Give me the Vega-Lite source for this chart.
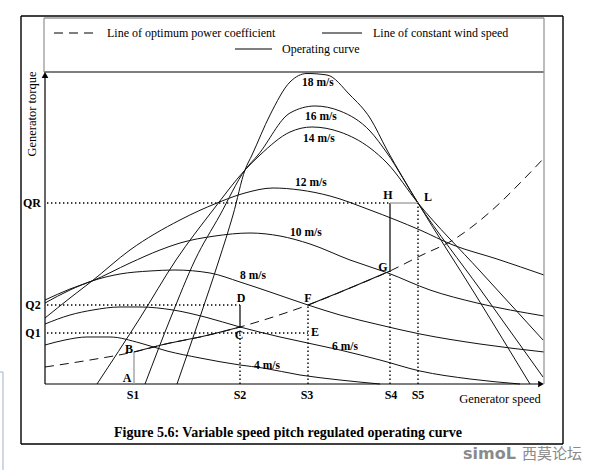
{
  "$schema": "https://vega.github.io/schema/vega-lite/v6.json",
  "width": 608,
  "height": 470,
  "autosize": {"type": "none"},
  "padding": 0,
  "background": "white",
  "config": {"view": {"stroke": null}},
  "datasets": {
    "wind": [
      {"v":"4","s":0,"t":13},{"v":"4","s":4,"t":14.67},{"v":"4","s":8.4,"t":15.67},{"v":"4","s":13,"t":15.67},{"v":"4","s":19,"t":13.67},{"v":"4","s":24.4,"t":11},{"v":"4","s":31,"t":8.67},{"v":"4","s":39,"t":6.33},{"v":"4","s":43.6,"t":5.33},{"v":"4","s":51,"t":3},{"v":"4","s":59,"t":1.33},{"v":"4","s":67,"t":0},
      {"v":"6","s":0,"t":20},{"v":"6","s":5,"t":23},{"v":"6","s":9.6,"t":24.67},{"v":"6","s":15,"t":25.67},{"v":"6","s":19,"t":25.67},{"v":"6","s":25.6,"t":24.67},{"v":"6","s":32,"t":22.33},{"v":"6","s":39,"t":19},{"v":"6","s":47,"t":15.67},{"v":"6","s":59,"t":11.33},{"v":"6","s":67,"t":8},{"v":"6","s":75,"t":4.33},{"v":"6","s":85,"t":1.67},{"v":"6","s":95,"t":0},
      {"v":"8","s":0,"t":27},{"v":"8","s":5,"t":31.33},{"v":"8","s":9.4,"t":34.33},{"v":"8","s":15,"t":36.67},{"v":"8","s":21,"t":37.67},{"v":"8","s":26,"t":38},{"v":"8","s":33,"t":37},{"v":"8","s":39,"t":34},{"v":"8","s":45,"t":30.67},{"v":"8","s":52.6,"t":26.33},{"v":"8","s":59,"t":23},{"v":"8","s":67,"t":19.67},{"v":"8","s":75,"t":16.67},{"v":"8","s":87,"t":13.33},{"v":"8","s":99.8,"t":10.67},
      {"v":"10","s":0,"t":28},{"v":"10","s":5,"t":31.67},{"v":"10","s":9.4,"t":34.33},{"v":"10","s":17,"t":40.33},{"v":"10","s":23,"t":44.67},{"v":"10","s":27,"t":47},{"v":"10","s":34,"t":49.33},{"v":"10","s":41,"t":50.33},{"v":"10","s":47,"t":49.33},{"v":"10","s":53,"t":46.67},{"v":"10","s":61,"t":41.33},{"v":"10","s":68.6,"t":37},{"v":"10","s":77,"t":31.33},{"v":"10","s":86.4,"t":27},{"v":"10","s":99.8,"t":22.67},
      {"v":"12","s":0,"t":22},{"v":"12","s":5,"t":28.67},{"v":"12","s":9.4,"t":34.33},{"v":"12","s":17,"t":44.67},{"v":"12","s":27,"t":54.67},{"v":"12","s":34.4,"t":60.33},{"v":"12","s":40,"t":63.67},{"v":"12","s":45.6,"t":65.33},{"v":"12","s":51,"t":64.67},{"v":"12","s":57,"t":62.67},{"v":"12","s":65,"t":58},{"v":"12","s":75,"t":51.33},{"v":"12","s":81.6,"t":46.33},{"v":"12","s":90.4,"t":41.67},{"v":"12","s":99.8,"t":36.33},
      {"v":"14","s":10.4,"t":0},{"v":"14","s":19,"t":22},{"v":"14","s":26.2,"t":41.33},{"v":"14","s":33.6,"t":58},{"v":"14","s":40,"t":71.33},{"v":"14","s":43,"t":76.33},{"v":"14","s":49,"t":84},{"v":"14","s":53.4,"t":85.67},{"v":"14","s":59,"t":84},{"v":"14","s":65,"t":78.67},{"v":"14","s":68.4,"t":73.67},{"v":"14","s":74.6,"t":60.33},{"v":"14","s":87,"t":37.67},{"v":"14","s":99.6,"t":14.67},
      {"v":"16","s":20,"t":0},{"v":"16","s":25.2,"t":22.33},{"v":"16","s":30,"t":41.33},{"v":"16","s":35,"t":56.33},{"v":"16","s":40,"t":71.33},{"v":"16","s":42.6,"t":76.33},{"v":"16","s":49,"t":90.33},{"v":"16","s":54,"t":92.67},{"v":"16","s":59,"t":91},{"v":"16","s":65,"t":84.33},{"v":"16","s":68.4,"t":77},{"v":"16","s":74.6,"t":60.33},{"v":"16","s":87,"t":31.67},{"v":"16","s":99.6,"t":2.33},
      {"v":"18","s":26.4,"t":0},{"v":"18","s":31,"t":22.33},{"v":"18","s":34.8,"t":41.33},{"v":"18","s":37.6,"t":56.33},{"v":"18","s":40,"t":71.33},{"v":"18","s":41.4,"t":76.33},{"v":"18","s":45,"t":89.67},{"v":"18","s":49,"t":100.67},{"v":"18","s":52.4,"t":103.5},{"v":"18","s":56.4,"t":103},{"v":"18","s":61,"t":96.33},{"v":"18","s":65,"t":88.67},{"v":"18","s":68.4,"t":78},{"v":"18","s":74.6,"t":60.33},{"v":"18","s":86,"t":30},{"v":"18","s":97,"t":0}
    ],
    "optimum": [
      {"s":0,"t":5.67},{"s":9,"t":8},{"s":17.8,"t":10.67},{"s":25,"t":13.67},{"s":31,"t":15.67},{"s":39,"t":19},{"s":45,"t":22},{"s":52.6,"t":26.33},{"s":61,"t":32},{"s":69,"t":37.67},{"s":75,"t":42.67},{"s":81.6,"t":48},{"s":89,"t":57.33},{"s":95.6,"t":68},{"s":99.8,"t":75.33}
    ],
    "operating": [
      {"p":"BC","s":17.8,"t":10.67},{"p":"BC","s":25,"t":13.67},{"p":"BC","s":31,"t":15.67},{"p":"BC","s":39,"t":19},
      {"p":"FG","s":52.6,"t":26.33},{"p":"FG","s":61,"t":32},{"p":"FG","s":69,"t":37.67}
    ],
    "rules": [
      {"g":"outer","s":-4.8,"s2":103.6,"t":122.67,"t2":122.67},
      {"g":"outer","s":-4.8,"s2":103.6,"t":-20,"t2":-20},
      {"g":"outer","s":-4.8,"s2":-4.8,"t":-20,"t2":122.67},
      {"g":"outer","s":103.6,"s2":103.6,"t":-20,"t2":122.67},
      {"g":"black","s":-0.2,"s2":99.8,"t":104,"t2":104},
      {"g":"black","s":0,"s2":98.6,"t":0,"t2":0},
      {"g":"black","s":0,"s2":0,"t":0,"t2":102},
      {"g":"black","s":39,"s2":39,"t":19,"t2":26.33},
      {"g":"black","s":69,"s2":69,"t":37.67,"t2":60.33},
      {"g":"black","s":55.4,"s2":63.4,"t":117,"t2":117},
      {"g":"black","s":38,"s2":45.4,"t":111.67,"t2":111.67},
      {"g":"grey","s":-0.2,"s2":99.8,"t":122,"t2":122},
      {"g":"grey","s":-0.2,"s2":-0.2,"t":104,"t2":122},
      {"g":"grey","s":99.8,"s2":99.8,"t":0,"t2":122},
      {"g":"grey","s":17.8,"s2":17.8,"t":0,"t2":10.67},
      {"g":"grey","s":69,"s2":74.6,"t":60.33,"t2":60.33},
      {"g":"dotted","s":0.4,"s2":69,"t":60.33,"t2":60.33},
      {"g":"dotted","s":0.4,"s2":39,"t":26.33,"t2":26.33},
      {"g":"dotted","s":0.4,"s2":52.6,"t":17,"t2":17},
      {"g":"dotted","s":39,"s2":39,"t":0,"t2":19},
      {"g":"dotted","s":52.6,"s2":52.6,"t":0,"t2":26.33},
      {"g":"dotted","s":69,"s2":69,"t":0,"t2":37.67},
      {"g":"dotted","s":74.6,"s2":74.6,"t":0,"t2":60.33},
      {"g":"dashed","s":1.8,"s2":9.6,"t":117,"t2":117},
      {"g":"artifact","s":-8.4,"s2":-8.4,"t":-28.67,"t2":4},
      {"g":"artifact","s":-9,"s2":-8.4,"t":4,"t2":4}
    ],
    "arrows": [
      {"dir":"right","s":99.2,"t":0},
      {"dir":"up","s":0,"t":103}
    ],
    "labels": [
      {"g":"legend","label":"Line of optimum power coefficient","s":12.4,"t":117},
      {"g":"legend","label":"Line of constant wind speed","s":65.6,"t":117},
      {"g":"legend","label":"Operating curve","s":47.4,"t":111.67},
      {"g":"wind","label":"18 m/s","s":51.4,"t":100.33},
      {"g":"wind","label":"16 m/s","s":52,"t":89},
      {"g":"wind","label":"14 m/s","s":51.6,"t":81.67},
      {"g":"wind","label":"12 m/s","s":50,"t":67},
      {"g":"wind","label":"10 m/s","s":49,"t":50.33},
      {"g":"wind","label":"8 m/s","s":39,"t":36},
      {"g":"wind","label":"6 m/s","s":57.4,"t":12.33},
      {"g":"wind","label":"4 m/s","s":41.8,"t":6},
      {"g":"point","label":"A","s":16.4,"t":2},
      {"g":"point","label":"B","s":16.8,"t":11.67},
      {"g":"point","label":"C","s":38.8,"t":16.33},
      {"g":"point","label":"D","s":39.2,"t":28.67},
      {"g":"point","label":"E","s":54,"t":17.33},
      {"g":"point","label":"F","s":52.6,"t":28.67},
      {"g":"point","label":"G","s":67.6,"t":39},
      {"g":"point","label":"H","s":68.6,"t":63},
      {"g":"point","label":"L","s":76.6,"t":62.33},
      {"g":"point","label":"S1","s":17.6,"t":-3.67},
      {"g":"point","label":"S2","s":39,"t":-3.67},
      {"g":"point","label":"S3","s":52.4,"t":-3.67},
      {"g":"point","label":"S4","s":69.2,"t":-3.67},
      {"g":"point","label":"S5","s":74.6,"t":-3.67},
      {"g":"point","label":"QR","s":-2.6,"t":60.33},
      {"g":"point","label":"Q2","s":-2.4,"t":26.33},
      {"g":"point","label":"Q1","s":-2.4,"t":17},
      {"g":"axis","label":"Generator speed","s":91,"t":-5},
      {"g":"caption","label":"Figure 5.6: Variable speed pitch regulated operating curve","s":48.6,"t":-16.33},
      {"g":"logo","label":"simoL","s":83.6,"t":-23.33},
      {"g":"logocjk","label":"西莫论坛","s":95.4,"t":-23.33}
    ],
    "vlabel": [
      {"label":"Generator torque","s":-2.6,"t":90}
    ]
  },
  "encoding": {
    "x": {"field":"s","type":"quantitative","scale":{"domain":[-9,112.6],"nice":false,"zero":false},"axis":null},
    "y": {"field":"t","type":"quantitative","scale":{"domain":[-28.6667,128],"nice":false,"zero":false},"axis":null}
  },
  "layer": [
    {
      "data": {"name":"wind"},
      "mark": {"type":"line","interpolate":"monotone","color":"#111","strokeWidth":1},
      "encoding": {"detail":{"field":"v"}}
    },
    {
      "data": {"name":"optimum"},
      "mark": {"type":"line","interpolate":"monotone","color":"#111","strokeWidth":1,"strokeDash":[9,6]},
      "encoding": {}
    },
    {
      "data": {"name":"operating"},
      "mark": {"type":"line","interpolate":"monotone","color":"#111","strokeWidth":1.1},
      "encoding": {"detail":{"field":"p"}}
    },
    {
      "data": {"name":"rules"},
      "transform": [{"filter":"datum.g == 'outer'"}],
      "mark": {"type":"rule","color":"#000","strokeWidth":1.4},
      "encoding": {"x2":{"field":"s2"},"y2":{"field":"t2"}}
    },
    {
      "data": {"name":"rules"},
      "transform": [{"filter":"datum.g == 'black'"}],
      "mark": {"type":"rule","color":"#000","strokeWidth":1.2},
      "encoding": {"x2":{"field":"s2"},"y2":{"field":"t2"}}
    },
    {
      "data": {"name":"rules"},
      "transform": [{"filter":"datum.g == 'grey'"}],
      "mark": {"type":"rule","color":"#999","strokeWidth":1.3},
      "encoding": {"x2":{"field":"s2"},"y2":{"field":"t2"}}
    },
    {
      "data": {"name":"rules"},
      "transform": [{"filter":"datum.g == 'dotted'"}],
      "mark": {"type":"rule","color":"#000","strokeWidth":1.4,"strokeDash":[1.4,2.6]},
      "encoding": {"x2":{"field":"s2"},"y2":{"field":"t2"}}
    },
    {
      "data": {"name":"rules"},
      "transform": [{"filter":"datum.g == 'dashed'"}],
      "mark": {"type":"rule","color":"#000","strokeWidth":1.1,"strokeDash":[9,6]},
      "encoding": {"x2":{"field":"s2"},"y2":{"field":"t2"}}
    },
    {
      "data": {"name":"rules"},
      "transform": [{"filter":"datum.g == 'artifact'"}],
      "mark": {"type":"rule","color":"#aebfd2","strokeWidth":1.2},
      "encoding": {"x2":{"field":"s2"},"y2":{"field":"t2"}}
    },
    {
      "data": {"name":"arrows"},
      "transform": [{"filter":"datum.dir == 'right'"}],
      "mark": {"type":"point","shape":"triangle-right","filled":true,"color":"#000","size":45,"opacity":1},
      "encoding": {}
    },
    {
      "data": {"name":"arrows"},
      "transform": [{"filter":"datum.dir == 'up'"}],
      "mark": {"type":"point","shape":"triangle-up","filled":true,"color":"#000","size":45,"opacity":1},
      "encoding": {}
    },
    {
      "data": {"name":"labels"},
      "transform": [{"filter":"datum.g == 'legend'"}],
      "mark": {"type":"text","align":"left","baseline":"middle","font":"Liberation Serif","fontSize":12,"color":"#000"},
      "encoding": {"text":{"field":"label"}}
    },
    {
      "data": {"name":"labels"},
      "transform": [{"filter":"datum.g == 'wind'"}],
      "mark": {"type":"text","align":"left","baseline":"middle","font":"Liberation Serif","fontSize":11.5,"fontWeight":"bold","color":"#000"},
      "encoding": {"text":{"field":"label"}}
    },
    {
      "data": {"name":"labels"},
      "transform": [{"filter":"datum.g == 'point'"}],
      "mark": {"type":"text","align":"center","baseline":"middle","font":"Liberation Serif","fontSize":12,"fontWeight":"bold","color":"#000"},
      "encoding": {"text":{"field":"label"}}
    },
    {
      "data": {"name":"labels"},
      "transform": [{"filter":"datum.g == 'axis'"}],
      "mark": {"type":"text","align":"center","baseline":"middle","font":"Liberation Serif","fontSize":12.5,"color":"#000"},
      "encoding": {"text":{"field":"label"}}
    },
    {
      "data": {"name":"labels"},
      "transform": [{"filter":"datum.g == 'caption'"}],
      "mark": {"type":"text","align":"center","baseline":"middle","font":"Liberation Serif","fontSize":14,"fontWeight":"bold","color":"#000"},
      "encoding": {"text":{"field":"label"}}
    },
    {
      "data": {"name":"labels"},
      "transform": [{"filter":"datum.g == 'logo'"}],
      "mark": {"type":"text","align":"left","baseline":"middle","font":"DejaVu Sans","fontSize":16,"fontWeight":"bold","color":"#8a8a8a"},
      "encoding": {"text":{"field":"label"}}
    },
    {
      "data": {"name":"labels"},
      "transform": [{"filter":"datum.g == 'logocjk'"}],
      "mark": {"type":"text","align":"left","baseline":"middle","font":"Noto Sans CJK SC","fontSize":15,"color":"#8a8a8a"},
      "encoding": {"text":{"field":"label"}}
    },
    {
      "data": {"name":"vlabel"},
      "mark": {"type":"text","align":"center","baseline":"middle","angle":270,"font":"Liberation Serif","fontSize":12.5,"color":"#000"},
      "encoding": {"text":{"field":"label"}}
    }
  ]
}
